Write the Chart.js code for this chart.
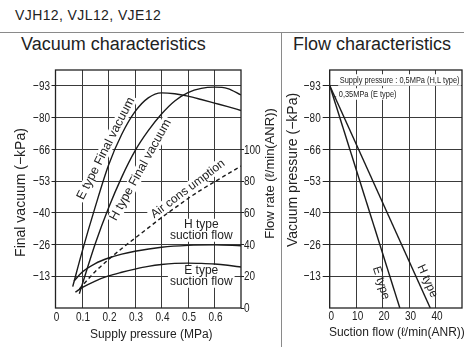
<!DOCTYPE html>
<html lang="en">
<head>
<meta charset="UTF-8">
<title>VJH12, VJL12, VJE12 - Vacuum / Flow characteristics</title>
<script src="https://cdn.jsdelivr.net/npm/chart.js"></script>
<style>
  body { margin: 0; background: #fff; font-family: 'Liberation Sans', Arial, sans-serif; color: #222; }
  .page { position: relative; width: 464px; height: 347px; overflow: hidden; }
  #model { position: absolute; left: 15px; top: 8px; font-size: 14px; line-height: 14px; letter-spacing: 0.4px; }
  .sect { position: absolute; top: 35px; font-size: 18px; line-height: 18px; white-space: nowrap; }
  .hline { position: absolute; left: 0; top: 32px; width: 464px; height: 1px; background: #8a8a8a; }
  .vline { position: absolute; left: 281px; top: 32px; width: 1px; height: 315px; background: #8a8a8a; }
  canvas { position: absolute; top: 60px; }
</style>
</head>
<body>
<div class="page">
  <div id="model">VJH12, VJL12, VJE12</div>
  <div class="hline"></div>
  <div class="vline"></div>
  <div class="sect" style="left:21px">Vacuum characteristics</div>
  <div class="sect" style="left:293px">Flow characteristics</div>
  <canvas id="vacChart" width="282" height="287" style="left:0"></canvas>
  <canvas id="flowChart" width="182" height="287" style="left:282px"></canvas>
</div>

<script>
// --- tick labels ---
const supplyTicks = [0, 0.1, 0.2, 0.3, 0.4, 0.5, 0.6];
const supplyTickLabels = ['0', '0.1', '0.2', '0.3', '0.4', '0.5', '0.6'];
const vacuumTicks = [13.33, 26.67, 40, 53.33, 66.67, 80, 93.33];
const vacuumTickLabels = ['−13', '−26', '−40', '−53', '−66', '−80', '−93'];
const flowRateTicks = [0, 20, 40, 60, 80, 100];
const flowRateTickLabels = ['0', '20', '40', '60', '80', '100'];
const suctionTicks = [0, 10, 20, 30, 40];
const suctionTickLabels = ['0', '10', '20', '30', '40'];

// --- Vacuum characteristics (x: supply pressure MPa) ---
// final vacuum, kPa (shown as negative)
const eVacPressure = [0.065, 0.1, 0.15, 0.2, 0.25, 0.3, 0.35, 0.4, 0.45, 0.5, 0.55, 0.6, 0.65, 0.7];
const eVacValue    = [9, 23.5, 42.5, 60, 73, 82.5, 88.3, 90.4, 90, 89, 87.6, 86.1, 84.6, 83];
const hVacPressure = [0.09, 0.15, 0.2, 0.25, 0.3, 0.35, 0.4, 0.45, 0.5, 0.55, 0.6, 0.65, 0.7];
const hVacValue    = [6, 27, 42, 55, 66, 74.5, 81.5, 87, 90.5, 92.3, 92.8, 92.2, 89.5];
// flow rate, l/min(ANR)
const airPressure  = [0.09, 0.15, 0.2, 0.25, 0.3, 0.35, 0.4, 0.45, 0.5, 0.55, 0.6, 0.65, 0.7];
const airFlow      = [12, 23, 30.5, 37.5, 44, 50.5, 57, 63, 69, 74.5, 79.5, 84.5, 89.5];
const hSucPressure = [0.07, 0.1, 0.15, 0.2, 0.25, 0.3, 0.4, 0.5, 0.6, 0.7];
const hSucFlow     = [17, 22.5, 28, 31.5, 34, 35.8, 38.3, 39.5, 39.8, 39.2];
const eSucPressure = [0.075, 0.1, 0.15, 0.2, 0.25, 0.3, 0.35, 0.4, 0.45, 0.5, 0.55, 0.6, 0.65, 0.7];
const eSucFlow     = [10, 12.8, 17, 20.2, 22.5, 24.5, 26.2, 27.4, 28.1, 28.3, 28.1, 27.7, 26.9, 25.8];

// --- Flow characteristics (x: suction flow l/min(ANR), y: vacuum kPa) ---
const eFlowSuction = [0, 26.5];
const eFlowVacuum  = [93.5, 0];
const hFlowSuction = [0, 38];
const hFlowVacuum  = [93.5, 0];

const regular = "'Liberation Sans', Arial, sans-serif";
const ink = '#222';
const gridColor = '#3a3a3a';

const pts = (xs, ys) => xs.map((x, i) => ({ x: x, y: ys[i] }));

function line(xs, ys, axis, dash) {
    return {
        data: pts(xs, ys),
        yAxisID: axis,
        borderColor: '#1a1a1a',
        borderWidth: 1.4,
        borderDash: dash || [],
        pointRadius: 0,
        fill: false,
        cubicInterpolationMode: 'monotone'
    };
}

// text, optionally rotated, squeezed, and on a white patch hiding the grid
function note(ctx, lines, x, y, o) {
    const size = o.size, lh = o.lh || size, sx = o.sx || 1;
    ctx.save();
    ctx.translate(x, y);
    ctx.rotate((o.rot || 0) * Math.PI / 180);
    ctx.scale(sx, 1);
    ctx.font = size + 'px ' + regular;
    ctx.textAlign = o.align || 'center';
    ctx.textBaseline = 'middle';
    const w = Math.max(...lines.map(t => ctx.measureText(t).width));
    const h = lh * lines.length;
    if (o.bg) {
        ctx.fillStyle = '#fff';
        const x0 = o.align === 'left' ? -2 : -w / 2 - 2;
        ctx.fillRect(x0, -h / 2 - 1, w + 4, h + 2);
    }
    ctx.fillStyle = ink;
    lines.forEach((t, i) => ctx.fillText(t, 0, -h / 2 + lh * (i + 0.5)));
    ctx.restore();
}

// condensed tick labels, placed from the chart's own scales
function tickLabels(ctx, scale, labels, place) {
    scale.ticks.forEach((t, i) => {
        const p = scale.getPixelForValue(t.value);
        const pos = place(p);
        note(ctx, [labels[i]], pos[0], pos[1], { size: 13.5, sx: 0.74, align: pos[2] });
    });
}

function frame(ctx, a) {
    ctx.save();
    ctx.strokeStyle = ink;
    ctx.lineWidth = 1.3;
    ctx.strokeRect(a.left, a.top, a.right - a.left, a.bottom - a.top);
    ctx.restore();
}

function clipTo(ctx, a) {
    ctx.beginPath();
    ctx.rect(a.left, a.top, a.right - a.left, a.bottom - a.top);
    ctx.clip();
}

// curve labels of the vacuum chart, placed in data coordinates
const vacNotes = [
    { lines: ['E type Final vacuum'], x: 0.19, y: 67, axis: 'y', rot: -63, size: 12.5 },
    { lines: ['H type Final vacuum'], x: 0.321, y: 58, axis: 'y', rot: -61, size: 12.5 },
    { lines: ['Air cons umption'], x: 0.5, y: 75, axis: 'flow', rot: -37, size: 12 },
    { lines: ['H type', 'suction flow'], x: 0.55, y: 49, axis: 'flow', rot: 0, size: 12 },
    { lines: ['E type', 'suction flow'], x: 0.55, y: 20, axis: 'flow', rot: 0, size: 12 }
];

const vacDecor = {
    id: 'vacDecor',
    beforeDatasetsDraw(chart) {
        const { ctx, chartArea: a, scales } = chart;
        ctx.save();
        clipTo(ctx, a);
        vacNotes.forEach(n => {
            note(ctx, n.lines, scales.x.getPixelForValue(n.x), scales[n.axis].getPixelForValue(n.y),
                 { rot: n.rot, size: n.size, lh: 10.5, bg: true });
        });
        ctx.restore();
    },
    afterDraw(chart) {
        const { ctx, chartArea: a, scales } = chart;
        frame(ctx, a);
        tickLabels(ctx, scales.y, vacuumTickLabels, p => [a.left - 5.5, p + 0.5, 'right']);
        tickLabels(ctx, scales.flow, flowRateTickLabels, p => [a.right + 3, p + 0.5, 'left']);
        tickLabels(ctx, scales.x, supplyTickLabels, p => [p + 1, a.bottom + 9, 'center']);
        note(ctx, ['Final vacuum (−kPa)'], 21, (a.top + a.bottom) / 2 + 3.5, { rot: -90, size: 14 });
        note(ctx, ['Flow rate (ℓ/min(ANR))'], 270, (a.top + a.bottom) / 2 - 15.5, { rot: -90, size: 13 });
        note(ctx, ['Supply pressure (MPa)'], (a.left + a.right) / 2 + 3, a.bottom + 27, { size: 12 });
    }
};

const flowNotes = [
    { lines: ['E type'], x: 19.4, y: 10.5, rot: 72, size: 12 },
    { lines: ['H type'], x: 36.9, y: 11.3, rot: 66, size: 12 }
];

const flowDecor = {
    id: 'flowDecor',
    beforeDatasetsDraw(chart) {
        const { ctx, chartArea: a, scales } = chart;
        ctx.save();
        clipTo(ctx, a);
        note(ctx, ['Supply pressure : 0,5MPa (H,L type)'], a.left + 10, a.top + 10,
             { size: 9.5, sx: 0.78, align: 'left', bg: true });
        note(ctx, [', 0,35MPa (E type)'], a.left + 5, a.top + 24,
             { size: 9.5, sx: 0.78, align: 'left', bg: true });
        flowNotes.forEach(n => {
            note(ctx, n.lines, scales.x.getPixelForValue(n.x), scales.y.getPixelForValue(n.y),
                 { rot: n.rot, size: n.size });
        });
        ctx.restore();
    },
    afterDraw(chart) {
        const { ctx, chartArea: a, scales } = chart;
        frame(ctx, a);
        tickLabels(ctx, scales.y, vacuumTickLabels, p => [a.left - 9, p + 0.5, 'right']);
        tickLabels(ctx, scales.x, suctionTickLabels, p => [p + 1.5, a.bottom + 8.5, 'center']);
        note(ctx, ['Vacuum pressure (−kPa)'], 11, (a.top + a.bottom) / 2 - 19, { rot: -90, size: 14 });
        note(ctx, ['Suction flow (ℓ/min(ANR))'], (a.left + a.right) / 2 + 1, a.bottom + 25, { size: 12 });
    }
};

const vacuumAxis = (width, tickLen) => ({
    min: 0, max: 100, position: 'left',
    afterBuildTicks: s => { s.ticks = vacuumTicks.map(v => ({ value: v })); },
    ticks: { display: false },
    grid: { color: gridColor, lineWidth: 1, tickLength: tickLen, tickColor: ink },
    border: { display: false },
    afterFit: s => { s.width = width; }
});

const bottomAxis = (max, ticks) => ({
    type: 'linear', min: 0, max: max,
    afterBuildTicks: s => { s.ticks = ticks.map(v => ({ value: v })); },
    ticks: { display: false },
    grid: { color: gridColor, lineWidth: 1, drawTicks: false },
    border: { display: false },
    afterFit: s => { s.height = 39; }
});

new Chart(document.getElementById('vacChart'), {
    type: 'line',
    data: {
        datasets: [
            line(eVacPressure, eVacValue, 'y'),
            line(hVacPressure, hVacValue, 'y'),
            line(airPressure, airFlow, 'flow', [4, 3]),
            line(hSucPressure, hSucFlow, 'flow'),
            line(eSucPressure, eSucFlow, 'flow')
        ]
    },
    options: {
        responsive: false,
        animation: false,
        devicePixelRatio: 1,
        layout: { padding: { top: 10, left: 0, right: 0, bottom: 0 } },
        plugins: { legend: { display: false }, tooltip: { enabled: false } },
        scales: {
            x: bottomAxis(0.7, supplyTicks),
            y: vacuumAxis(55.5, 4),
            flow: {
                min: 0, max: 150, position: 'right',
                afterBuildTicks: s => { s.ticks = flowRateTicks.map(v => ({ value: v })); },
                ticks: { display: false },
                grid: { drawOnChartArea: false, tickLength: 3, color: ink },
                border: { display: false },
                afterFit: s => { s.width = 41; }
            }
        }
    },
    plugins: [vacDecor]
});

new Chart(document.getElementById('flowChart'), {
    type: 'line',
    data: {
        datasets: [
            line(eFlowSuction, eFlowVacuum, 'y'),
            line(hFlowSuction, hFlowVacuum, 'y')
        ]
    },
    options: {
        responsive: false,
        animation: false,
        devicePixelRatio: 1,
        layout: { padding: { top: 10, left: 0, right: 2, bottom: 0 } },
        plugins: { legend: { display: false }, tooltip: { enabled: false } },
        scales: {
            x: bottomAxis(50, suctionTicks),
            y: vacuumAxis(47.7, 7)
        }
    },
    plugins: [flowDecor]
});
</script>
</body>
</html>
